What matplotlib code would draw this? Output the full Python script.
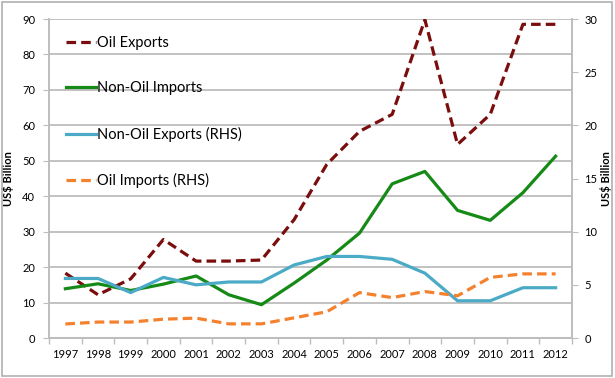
import matplotlib
matplotlib.use("Agg")
import matplotlib.pyplot as plt
from matplotlib.patches import Rectangle
import numpy as np

plt.rcParams['font.family'] = ['Lato', 'DejaVu Sans']

years = [1997, 1998, 1999, 2000, 2001, 2002, 2003, 2004,
         2005, 2006, 2007, 2008, 2009, 2010, 2011, 2012]

# left axis, US$ billion
oil_exports = [18.3, 12.2, 16.7, 27.8, 21.7, 21.7, 22.0, 33.4,
               49.0, 58.3, 63.1, 89.8, 54.6, 63.1, 88.5, 88.5]
non_oil_imports = [13.9, 15.3, 13.4, 15.2, 17.5, 12.2, 9.4, 15.5,
                   22.0, 29.6, 43.5, 47.0, 36.0, 33.2, 41.0, 51.3]

# right axis, US$ billion
non_oil_exports = [5.6, 5.6, 4.27, 5.7, 5.0, 5.27, 5.27, 6.87,
                   7.67, 7.67, 7.4, 6.1, 3.5, 3.5, 4.73, 4.73]
oil_imports = [1.32, 1.5, 1.5, 1.77, 1.87, 1.33, 1.33, 1.9,
               2.47, 4.27, 3.8, 4.37, 3.97, 5.7, 6.03, 6.03]

c_oilx = '#7a0d0d'
c_nonimp = '#168a16'
c_nonexp = '#4babc6'
c_oilimp = '#f4812e'
grid_c = '#bdbdbd'

fig = plt.figure(figsize=(6.15, 3.78), dpi=100)
ax = fig.add_axes([0.0797, 0.1058, 0.8503, 0.8439])
ax2 = ax.twinx()

x = np.arange(len(years))

l1, = ax.plot(x, oil_exports, color=c_oilx, lw=2.3, dashes=(3, 1.6),
              label='Oil Exports')
l2, = ax.plot(x, non_oil_imports, color=c_nonimp, lw=2.3, label='Non-Oil Imports')
l3, = ax2.plot(x, non_oil_exports, color=c_nonexp, lw=2.3,
               label='Non-Oil Exports (RHS)')
l4, = ax2.plot(x, oil_imports, color=c_oilimp, lw=2.3, dashes=(3, 1.6),
               label='Oil Imports (RHS)')

ax.set_xlim(-0.5, len(years) - 0.5)
ax.set_ylim(0, 90)
ax2.set_ylim(0, 30)
ax.set_yticks(range(0, 91, 10))
ax2.set_yticks(range(0, 31, 5))

ax.set_xticks(x)
ax.set_xticklabels([str(y) for y in years], fontsize=8)
ax.set_xticks(np.arange(-0.5, len(years), 1), minor=True)
ax.tick_params(axis='x', which='major', length=0, pad=8)
ax.tick_params(axis='x', which='minor', length=4, color=grid_c, width=1)
ax.tick_params(axis='y', labelsize=8, length=4, color=grid_c, pad=6)
ax2.tick_params(axis='y', labelsize=8, length=4, color=grid_c, pad=5)

ax.yaxis.grid(True, color=grid_c, lw=1.3)
ax.set_axisbelow(True)

for a in (ax, ax2):
    a.spines['top'].set_visible(False)
    for s in ('left', 'right', 'bottom'):
        a.spines[s].set_color(grid_c)
        a.spines[s].set_linewidth(1.2)

ax.set_ylabel('US$ Billion', fontsize=8, fontweight='bold', labelpad=6)
ax2.set_ylabel('US$ Billion', fontsize=8, fontweight='bold', labelpad=2)

fig.legend(handles=[l1, l2, l3, l4], loc='upper left',
           bbox_to_anchor=(0.108, 0.905), frameon=False, fontsize=10.5,
           labelspacing=2.15, handlelength=2.0, handletextpad=0.1,
           borderpad=0, borderaxespad=0)

fig.patches.append(Rectangle((0.004, 0.006), 0.991, 0.988, transform=fig.transFigure,
                             fill=False, edgecolor='#b0b0b0', lw=1.2))

fig.savefig('out.png', dpi=100)
